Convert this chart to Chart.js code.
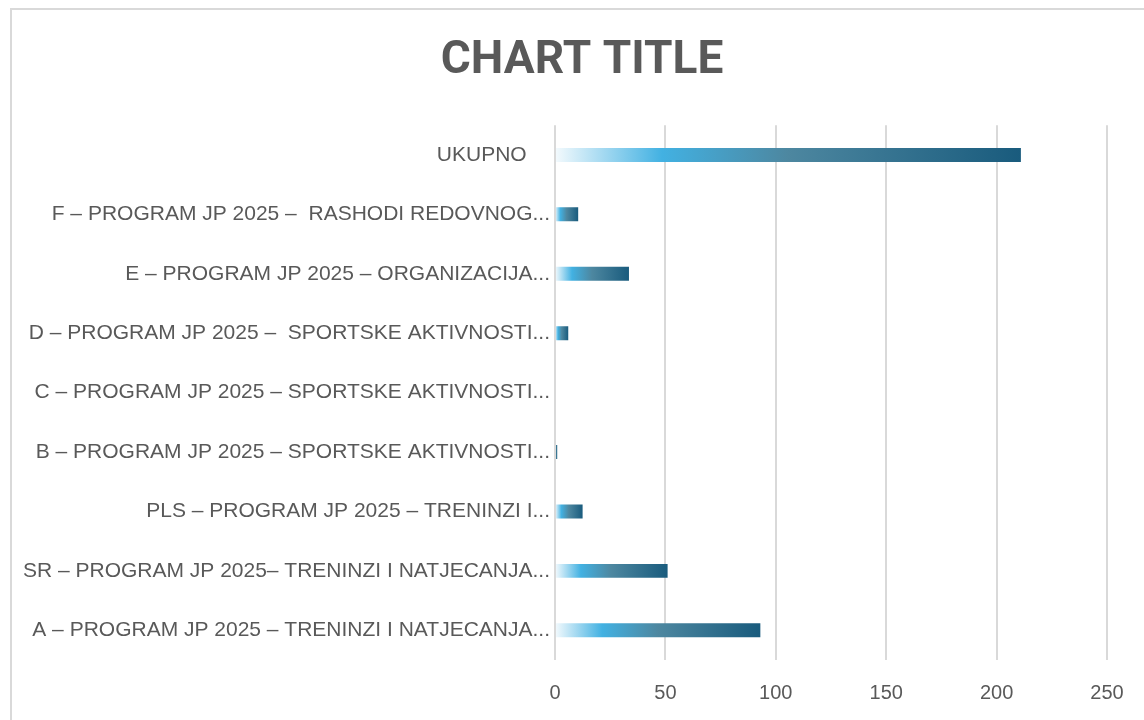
<!DOCTYPE html>
<html>
<head>
<meta charset="utf-8">
<script src="https://cdn.jsdelivr.net/npm/chart.js@4"></script>
<style>
  html, body { margin: 0; padding: 0; background: #fff; overflow: hidden; }
  #frame {
    position: absolute; left: 10px; top: 8px;
    width: 1140px; height: 720px;
    border: 2px solid #d9d9d9;
  }
</style>
</head>
<body>
<div id="frame"><canvas id="barChart"></canvas></div>
<script>
const categories = [
  'UKUPNO    ',
  'F – PROGRAM JP 2025 –  RASHODI REDOVNOG...',
  'E – PROGRAM JP 2025 – ORGANIZACIJA...',
  'D – PROGRAM JP 2025 –  SPORTSKE AKTIVNOSTI...',
  'C – PROGRAM JP 2025 – SPORTSKE AKTIVNOSTI...',
  'B – PROGRAM JP 2025 – SPORTSKE AKTIVNOSTI...',
  'PLS – PROGRAM JP 2025 – TRENINZI I...',
  'SR – PROGRAM JP 2025– TRENINZI I NATJECANJA...',
  'A – PROGRAM JP 2025 – TRENINZI I NATJECANJA...'
];
const values = [211, 10.5, 33.5, 6, 0, 1, 12.5, 51, 93];
const tickValues = [0, 50, 100, 150, 200, 250];

const textColor = '#595959';
const gridColor = '#d9d9d9';

function barGradient(context) {
  const chart = context.chart;
  const { ctx, chartArea, scales } = chart;
  if (!chartArea) return '#2d7fa6';
  const v = context.raw || 0;
  const x0 = scales.x.getPixelForValue(0);
  let x1 = scales.x.getPixelForValue(v);
  if (x1 - x0 < 1) x1 = x0 + 1;
  const g = ctx.createLinearGradient(x0, 0, x1, 0);
  g.addColorStop(0, '#f4fafd');
  g.addColorStop(0.23, '#42b1e2');
  g.addColorStop(0.5, '#4d87a0');
  g.addColorStop(1, '#195b7d');
  return g;
}

// centre the title on the frame rather than on the padded layout box
const centerTitle = {
  id: 'centerTitle',
  afterLayout(chart) {
    const t = chart.titleBlock;
    if (!t) return;
    t.right = chart.chartArea.right;
    t.left = chart.width - chart.chartArea.right;
  }
};

new Chart(document.getElementById('barChart'), {
  type: 'bar',
  data: {
    labels: categories,
    datasets: [{
      data: values,
      backgroundColor: barGradient,
      borderWidth: 0,
      barPercentage: 0.47,
      categoryPercentage: 0.5
    }]
  },
  plugins: [centerTitle],
  options: {
    indexAxis: 'y',
    responsive: true,
    maintainAspectRatio: false,
    animation: false,
    layout: { padding: { left: 0, right: 45, top: 0, bottom: 4 } },
    plugins: {
      legend: { display: false },
      tooltip: { enabled: false },
      title: {
        display: true,
        text: 'CHART TITLE',
        color: textColor,
        font: { family: 'Roboto', size: 46, weight: 'bold' },
        padding: { top: 24, bottom: 36 }
      }
    },
    scales: {
      x: {
        min: 0,
        max: 250,
        afterBuildTicks: (scale) => { scale.ticks = tickValues.map(v => ({ value: v })); },
        grid: { color: gridColor, lineWidth: 2, drawTicks: false },
        border: { display: false },
        ticks: {
          color: textColor,
          font: { family: 'Liberation Sans', size: 20 },
          padding: 21
        }
      },
      y: {
        afterFit: (scale) => { scale.width = 543; },
        grid: { display: false, drawTicks: false },
        border: { display: false },
        ticks: {
          color: textColor,
          font: { family: 'Liberation Sans', size: 21 },
          padding: 5,
          autoSkip: false
        }
      }
    }
  }
});
</script>
</body>
</html>
